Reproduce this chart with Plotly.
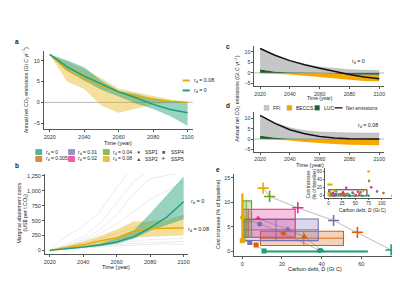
import plotly.graph_objects as go

W, H = 400, 300
FONT = "Liberation Sans, Arial, sans-serif"
TICK = 5.5

years = [2020, 2030, 2040, 2050, 2060, 2070, 2080, 2090, 2100]

# ---------------- panel a : net emissions (Gt C / yr)
a_rd0_mid = [11.5, 8.5, 6.3, 4.3, 2.5, 1.1, -0.5, -1.7, -2.5]
a_rd0_hi = [11.5, 10.1, 8.4, 5.2, 2.8, 2.0, 0.9, 0.3, 0.0]
a_rd0_lo = [11.5, 7.6, 5.2, 3.0, 1.3, -0.3, -1.6, -3.3, -5.6]
a_rd8_mid = [11.5, 7.7, 5.7, 4.0, 2.5, 1.5, 0.8, 0.3, 0.0]
a_rd8_hi = [11.5, 9.8, 8.0, 5.8, 3.3, 2.4, 1.5, 0.7, 0.2]
a_rd8_lo = [11.5, 5.0, 3.2, -0.8, -2.5, -1.5, -0.4, -0.1, 0.0]

# ---------------- panel b : marginal abatement costs (US$ per t CO2)
b_rd0_mid = [0, 25, 55, 90, 140, 225, 376, 560, 815]
b_rd0_hi = [0, 35, 70, 115, 200, 330, 620, 930, 1240]
b_rd0_lo = [0, 18, 40, 70, 110, 190, 330, 420, 520]
b_rd8_mid = [0, 49, 93, 158, 212, 321, 365, 372, 376]
b_rd8_hi = [0, 71, 147, 240, 348, 485, 485, 511, 593]
b_rd8_lo = [0, 25, 60, 100, 160, 220, 240, 250, 260]
b_other = [
    [0, 240, 400, 650, 1050, 1450, 1800, 2000, 2200],
    [0, 100, 230, 450, 800, 1150, 1350, 1500, 1600],
    [0, 80, 180, 350, 600, 950, 1200, 1260, 1300],
    [0, 60, 150, 280, 450, 650, 850, 1000, 1150],
    [0, 50, 110, 190, 290, 390, 480, 540, 580],
    [0, 40, 90, 140, 190, 220, 240, 250, 250],
    [0, 30, 60, 100, 130, 160, 180, 190, 200],
    [0, 20, 50, 80, 100, 120, 130, 140, 150],
    [0, 15, 35, 55, 75, 90, 100, 110, 100],
]

# ---------------- panels c and d : emission components
c_ffi = [9.8, 7.4, 5.3, 3.9, 2.8, 2.0, 1.5, 1.2, 1.1]
c_luc = [1.6, 0.6, 0.15, 0.0, 0.0, -0.3, -0.7, -0.9, -0.9]
c_beccs = [0.0, 0.3, 0.8, 1.4, 2.0, 2.4, 2.8, 2.9, 3.0]
c_net = [11.5, 8.3, 5.8, 3.8, 2.2, 0.6, -0.8, -1.9, -2.8]

d_ffi = [9.8, 7.3, 5.3, 4.1, 3.4, 3.1, 3.0, 2.9, 2.9]
d_luc = [1.6, 0.6, 0.15, 0.0, 0.0, 0.0, 0.0, 0.0, 0.0]
d_beccs = [0.0, 0.2, 0.7, 1.4, 2.0, 2.4, 2.7, 2.9, 3.0]
d_net = [11.5, 7.6, 4.5, 2.6, 1.3, 0.5, 0.1, 0.0, 0.0]

# ---------------- panel e : carbon debt vs cost increase
rd_labels = ["0", "0.005", "0.01", "0.02", "0.04", "0.08"]
rd_colors = ["#1b9e77", "#d95f02", "#7570b3", "#e7298a", "#66a61e", "#e6ab02"]
rect_d_low = [11, 9.2, 1.3, 0.3, 0.3, -0.2]
rect_d_high = [63, 51, 38.3, 26.7, 4.7, 0.4]
rect_c_low = [-0.1, 1.2, 2.2, 2.9, 2.9, 2.0]
rect_c_high = [0.1, 4.1, 6.6, 8.6, 10.3, 11.7]
rect_d_med = [39, 31, 17, 3, 2, 0.1]
rect_c_med = [0.0, 2.7, 4.4, 6.5, 6.0, 6.5]

ssp1_d = [39, 20.7, 8.8, None, None, 0.2]
ssp1_c = [0.2, 3.7, 5.6, None, None, 6.9]
ssp2_d = [40, 31.3, 23, 8, None, None]
ssp2_c = [0.2, 3.0, 4.5, 6.7, None, None]
ssp4_d = [11, 7, 3.8, None, None, 0]
ssp4_c = [0.1, 1.3, 1.8, None, None, 2.2]
ssp5_d = [75, 58, 46, 28, 13.8, 10.5]
ssp5_c = [0.3, 3.9, 6.3, 8.9, 11.2, 12.9]

inset_d = [
    [40, 39, 11, 63, 75, 120, 50, 30],
    [21, 31, 7, 58, 51, 103, 25, 45],
    [9, 23, 4, 46, 38, 91, 15, 60],
    [8, 27, 28, 33, 80, 12, 55],
    [14, 2, 4, 76, 35, 20],
    [0, 5, 0, 0, 10.5, 75, 65],
]
inset_c = [
    [0.2, 0.3, 0.1, 0.0, 0.3, 0.5, 0.2, 0.5],
    [3.7, 3.0, 1.3, 3.9, 2.0, 7.0, 4.0, 8],
    [5.6, 4.5, 1.8, 6.3, 3.0, 11.0, 5.0, 9],
    [6.7, 8.9, 6.0, 20.0, 21.0, 3.0, 10],
    [11.2, 10.0, 6.0, 37.0, 5.0, 4],
    [28.0, 28.0, 6.9, 2.2, 12.9, 60.0, 12],
]
inset_box_d = [0, 72]
inset_box_c = [0, 15]


def fade(hexc, a):
    h = hexc.lstrip("#")
    r, g, b = int(h[0:2], 16), int(h[2:4], 16), int(h[4:6], 16)
    return f"rgba({r},{g},{b},{a})"


fig = go.Figure()


def band(xs, lo, hi, color, xa, ya):
    fig.add_trace(go.Scatter(x=list(xs) + list(xs)[::-1], y=list(hi) + list(lo)[::-1],
                             fill="toself", fillcolor=color, line=dict(width=0),
                             mode="lines", xaxis=xa, yaxis=ya, showlegend=False, hoverinfo="skip"))


def line(xs, ys, color, width, xa, ya):
    fig.add_trace(go.Scatter(x=xs, y=ys, mode="lines", line=dict(color=color, width=width),
                             xaxis=xa, yaxis=ya, showlegend=False, hoverinfo="skip", connectgaps=True))


G0, Y8 = "#1b9e77", "#e6ab02"

# ---- panel a
line([2016, 2104], [0, 0], "#999999", 0.7, "x", "y")
band(years, a_rd8_lo, a_rd8_hi, fade(Y8, 0.38), "x", "y")
band(years, a_rd0_lo, a_rd0_hi, fade(G0, 0.45), "x", "y")
line(years, a_rd8_mid, Y8, 1.4, "x", "y")
line(years, a_rd0_mid, G0, 1.4, "x", "y")

# ---- panel b
for g in b_other:
    line(years, g, "#dfe2e8", 0.7, "x2", "y2")
band(years, b_rd8_lo, b_rd8_hi, fade(Y8, 0.40), "x2", "y2")
band(years, b_rd0_lo, b_rd0_hi, fade(G0, 0.45), "x2", "y2")
line(years, b_rd8_mid, Y8, 1.4, "x2", "y2")
line(years, b_rd0_mid, G0, 1.4, "x2", "y2")


# ---- panels c, d
def components(ffi, luc, beccs, net, xa, ya):
    pos = [max(v, 0) for v in luc]
    neg = [min(v, 0) for v in luc]
    zero = [0] * len(years)
    top = [p + f for p, f in zip(pos, ffi)]
    bot = [n - b for n, b in zip(neg, beccs)]
    band(years, pos, top, "#c6c6c6", xa, ya)
    band(years, neg, bot, "#f6a800", xa, ya)
    band(years, zero, pos, "#1d5e26", xa, ya)
    band(years, neg, zero, "#1d5e26", xa, ya)
    line([2016, 2104], [0, 0], "#8a8a8a", 0.6, xa, ya)
    line(years, top, "#a8a8a8", 0.5, xa, ya)
    line(years, net, "#111111", 1.5, xa, ya)


components(c_ffi, c_luc, c_beccs, c_net, "x3", "y3")
components(d_ffi, d_luc, d_beccs, d_net, "x4", "y4")

# ---- panel e
for sd, sc in [(ssp5_d, ssp5_c), (ssp2_d, ssp2_c), (ssp1_d, ssp1_c), (ssp4_d, ssp4_c)]:
    pts = [(d, c) for d, c in zip(sd, sc) if d is not None]
    line([p[0] for p in pts], [p[1] for p in pts], "#b5b5b5", 0.9, "x5", "y5")

for i in [1, 2, 3, 4, 5, 0]:
    col = rd_colors[i]
    x0, x1, y0, y1 = rect_d_low[i], rect_d_high[i], rect_c_low[i], rect_c_high[i]
    fig.add_trace(go.Scatter(x=[x0, x1, x1, x0, x0], y=[y0, y0, y1, y1, y0], mode="lines",
                             fill="toself", fillcolor=fade(col, 0.28), line=dict(color=col, width=1.1),
                             xaxis="x5", yaxis="y5", showlegend=False, hoverinfo="skip"))
    line([x0, x1], [rect_c_med[i]] * 2, col, 0.9, "x5", "y5")
    line([rect_d_med[i]] * 2, [y0, y1], col, 0.9, "x5", "y5")

for sd, sc, sym, size in [(ssp1_d, ssp1_c, "circle", 5), (ssp2_d, ssp2_c, "triangle-up", 6),
                          (ssp4_d, ssp4_c, "square", 5), (ssp5_d, ssp5_c, "cross-thin", 8)]:
    xs, ys, cs = [], [], []
    for d, c, col in zip(sd, sc, rd_colors):
        if d is not None:
            xs.append(d); ys.append(c); cs.append(col)
    fig.add_trace(go.Scatter(x=xs, y=ys, mode="markers",
                             marker=dict(symbol=sym, size=size, color=cs,
                                         line=dict(color=cs, width=1.6 if sym == "cross-thin" else 0)),
                             xaxis="x5", yaxis="y5", showlegend=False, hoverinfo="skip"))

# inset
bx0, bx1 = inset_box_d
by0, by1 = inset_box_c
line([bx0, bx1, bx1, bx0, bx0], [by0, by0, by1, by1, by0], "#333333", 1.0, "x6", "y6")
for dd, cc, col in zip(inset_d, inset_c, rd_colors):
    fig.add_trace(go.Scatter(x=dd, y=cc, mode="markers", marker=dict(size=2.6, color=col),
                             xaxis="x6", yaxis="y6", showlegend=False, hoverinfo="skip"))


# ---------------- axes
def ax(domain, rng, tickvals, anchor, fmt=None, size=TICK, ticklen=2):
    d = dict(domain=domain, range=rng, tickvals=tickvals, anchor=anchor, showgrid=False, zeroline=False,
             showline=True, linecolor="#555555", linewidth=0.6, ticks="outside", ticklen=ticklen,
             tickwidth=0.6, tickcolor="#555555", tickfont=dict(size=size, color="#333333", family=FONT))
    if fmt:
        d["tickformat"] = fmt
    return d


def xd(a, b):
    return [a / W, b / W]


def yd(top, bottom):
    return [1 - bottom / H, 1 - top / H]


yrs_ticks = [2020, 2040, 2060, 2080, 2100]
fig.update_layout(
    xaxis=ax(xd(35, 185), [2016.5, 2102.9], yrs_ticks, "y"),
    yaxis=ax(yd(42, 121), [-6.43, 12.38], [-5, 0, 5, 10], "x"),
    xaxis2=ax(xd(36, 180), [2017, 2102.4], yrs_ticks, "y2"),
    yaxis2=ax(yd(166, 247), [-67, 1283], [0, 250, 500, 750, 1000, 1250], "x2", ","),
    xaxis3=ax(xd(247, 378), [2016, 2103.3], yrs_ticks, "y3", size=5.2),
    yaxis3=ax(yd(37, 78), [-6.4, 12.8], [-5, 0, 5, 10], "x3", size=5.2),
    xaxis4=ax(xd(247, 378), [2016, 2103.3], yrs_ticks, "y4", size=5.2),
    yaxis4=ax(yd(104, 144), [-6.3, 13.0], [-5, 0, 5, 10], "x4", size=5.2),
    xaxis5=ax(xd(227, 390), [-4, 77.5], [0, 20, 40, 60], "y5"),
    yaxis5=ax(yd(166, 249), [-1.0, 15.8], [0, 5, 10, 15], "x5"),
    xaxis6=ax(xd(318, 395), [-7.5, 136], [0, 25, 50, 75, 100, 125], "y6", size=4.5, ticklen=1),
    yaxis6=ax(yd(160, 190), [-4.6, 69], [0, 20, 40, 60], "x6", size=4.5, ticklen=1),
)


def A(x, y, text, size=5.5, xanchor="center", angle=0, color="#222222"):
    return dict(x=x / W, y=1 - y / H, xref="paper", yref="paper", text=text, showarrow=False,
                font=dict(size=size, color=color, family=FONT), xanchor=xanchor, yanchor="middle",
                textangle=angle)


RD = "<i>r</i><sub>d</sub>"
CO2 = "CO<sub>2</sub>"
LEG_Y = 99.5
anns = [
    A(8, 33, "<b>a</b>", 6.5), A(8, 158, "<b>b</b>", 6.5), A(221, 38, "<b>c</b>", 6.5),
    A(221, 97, "<b>d</b>", 6.5), A(211, 162, "<b>e</b>", 6.5),
    # panel a
    A(17, 82, f"Annual net {CO2} emissions (Gt C yr<sup>−1</sup>)", 5.2, angle=-90),
    A(110, 135, "Time (year)"),
    A(184, 72, f"{RD} = 0.08", 5.3, "left"), A(184, 82, f"{RD} = 0", 5.3, "left"),
    # panel b
    A(10, 205, "Marginal abatement costs", 5.3, angle=-90),
    A(17, 205, f"(US$ per t {CO2})", 5.3, angle=-90),
    A(108, 260, "Time (year)"),
    A(181, 194, f"{RD} = 0", 5.5, "left"), A(178, 222, f"{RD} = 0.08", 5.5, "left"),
    # panels c d
    A(230, 90, f"Annual net {CO2} emissions (Gt C yr<sup>−1</sup>)", 5.2, angle=-90),
    A(313, 90, "Time (year)", 5.0),
    A(352, 53, f"{RD} = 0", 5.3), A(362, 117, f"{RD} = 0.08", 5.3),
    A(264, LEG_Y, "FFI", 5.0, "left"), A(287, LEG_Y, "BECCS", 5.0, "left"),
    A(315, LEG_Y, "LUC", 5.0, "left"), A(338, LEG_Y, "Net emissions", 5.0, "left"),
    A(303, 157, "Time (year)"),
    # panel e
    A(210, 207, "Cost increase (% of baseline)", 5.3, angle=-90),
    A(308, 262, "Carbon debt, <i>D</i> (Gt C)", 5.5),
    A(302, 176, "Cost increase", 4.6, angle=-90),
    A(308, 176, "(% of baseline)", 4.6, angle=-90),
    A(356, 203, "Carbon debt, <i>D</i> (Gt C)", 4.8),
]

shapes = []
# legend of panel a
for yy, col in [(72, Y8), (82, G0)]:
    shapes.append(dict(type="rect", xref="paper", yref="paper", x0=175 / W, x1=182 / W,
                       y0=1 - (yy + 1.5) / H, y1=1 - (yy - 1.5) / H, fillcolor=fade(col, 0.4), line=dict(width=0)))
    shapes.append(dict(type="line", xref="paper", yref="paper", x0=175 / W, x1=182 / W,
                       y0=1 - yy / H, y1=1 - yy / H, line=dict(color=col, width=1.3)))

# legend of panel b (r_d colours and SSP symbols)
leg_cols = [30, 63, 98]
grid = [(0, 0), (1, 0), (0, 1), (1, 1), (0, 2), (1, 2)]  # (row, column) per r_d
for (row, colm), lab, col in zip(grid, rd_labels, rd_colors):
    cx = leg_cols[colm]
    cy = 144 + 7 * row
    shapes.append(dict(type="rect", xref="paper", yref="paper", x0=(cx - 3) / W, x1=(cx + 3) / W,
                       y0=1 - (cy + 2.5) / H, y1=1 - (cy - 2.5) / H, fillcolor=fade(col, 0.75),
                       line=dict(color=col, width=0.6)))
    anns.append(A(cx + 5, cy, f"{RD} = {lab}", 5.0, "left"))
for (sym, lab, cx, cy) in [("●", "SSP1", 130, 144), ("▲", "SSP2", 130, 151),
                           ("■", "SSP4", 156, 144), ("+", "SSP5", 156, 151)]:
    anns.append(A(cx, cy, sym, 5.5 if sym != "+" else 8, color="#555555"))
    anns.append(A(cx + 5, cy, lab, 5.0, "left"))

# legend of panels c/d
for x0, x1, col in [(257, 262, "#c6c6c6"), (280, 285, "#f6a800"), (308, 313, "#1d5e26")]:
    shapes.append(dict(type="rect", xref="paper", yref="paper", x0=x0 / W, x1=x1 / W,
                       y0=1 - (LEG_Y + 2.5) / H, y1=1 - (LEG_Y - 2.5) / H, fillcolor=col,
                       line=dict(color="#999999", width=0.3)))
shapes.append(dict(type="line", xref="paper", yref="paper", x0=328 / W, x1=336 / W,
                   y0=1 - LEG_Y / H, y1=1 - LEG_Y / H, line=dict(color="#111111", width=1.3)))

fig.update_layout(width=W, height=H, margin=dict(l=0, r=0, t=0, b=0), paper_bgcolor="white",
                  plot_bgcolor="rgba(0,0,0,0)", showlegend=False, annotations=anns, shapes=shapes,
                  font=dict(family=FONT))
fig.write_html("out.html")
